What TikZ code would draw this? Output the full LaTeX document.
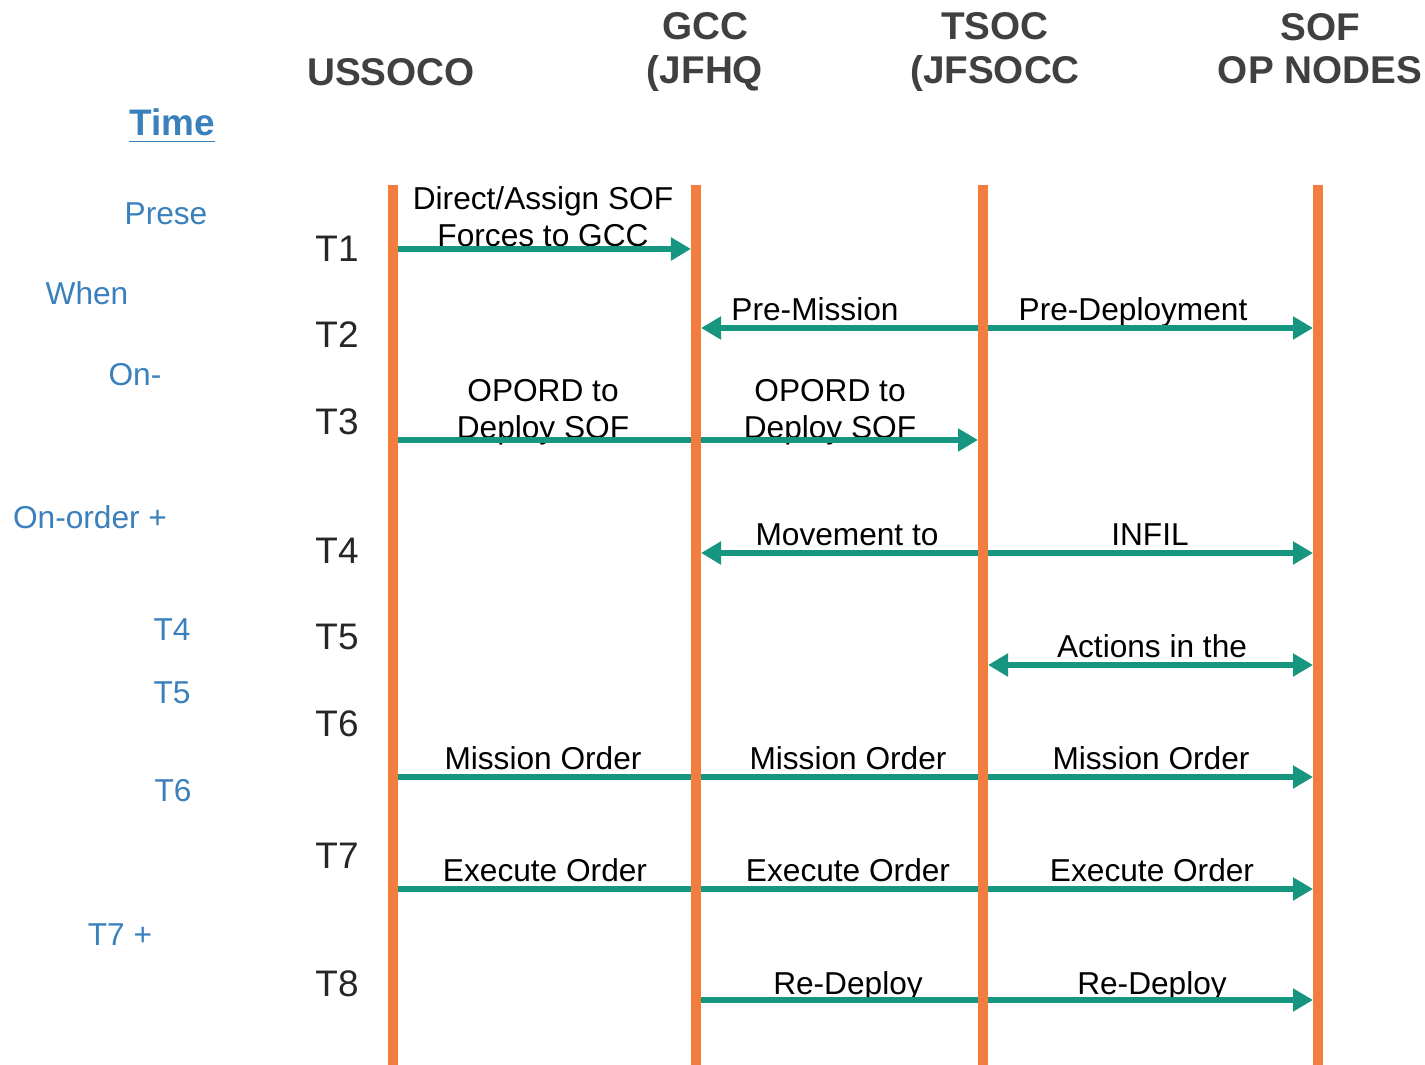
\documentclass[tikz,border=0pt]{standalone}
\usepackage{fontspec}
\setmainfont{Liberation Sans}
\definecolor{LifeOrange}{RGB}{242,125,62}
\definecolor{MsgTeal}{RGB}{22,150,128}
\definecolor{TimeBlue}{RGB}{58,128,188}
\definecolor{HeadGray}{RGB}{64,64,64}
\usetikzlibrary{arrows.meta}

\begin{document}
\begin{tikzpicture}[x=0.01cm, y=-0.01cm,
  head/.style={font=\fontsize{11}{12.3}\selectfont\bfseries, text=HeadGray, align=center, inner sep=0pt},
  life/.style={line width=0.1cm, draw=LifeOrange},
  msg/.style={line width=0.06cm, draw=MsgTeal, shorten >=0.05cm, -{Triangle[length=0.2cm, width=0.22cm]}},
  both/.style={msg, shorten <=0.05cm, {Triangle[length=0.2cm, width=0.22cm]}-{Triangle[length=0.2cm, width=0.22cm]}},
  lbl/.style={font=\fontsize{9}{10.5}\selectfont, align=center, inner sep=0pt, anchor=base},
  tick/.style={font=\fontsize{10.5}{12}\selectfont, text=black!85, inner sep=0pt, anchor=base},
  when/.style={font=\fontsize{9}{10.5}\selectfont, text=TimeBlue, inner sep=0pt, anchor=base}]
\useasboundingbox (0,0) rectangle (1425,1065);
% headers
\node[head, anchor=base] (ussoco) at (391,86) {USSOCO};
\node[head] (gcc) at (705,52) {GCC\\(JFHQ};
\node[head] (tsoc) at (995,52) {TSOC\\(JFSOCC};
\node[head] (sof) at (1320,48.5) {SOF\\OP NODES};
% lifelines
\coordinate (ussocoTop) at (393,185); \coordinate (ussocoEnd) at (393,1065);
\coordinate (gccTop) at (696,185);    \coordinate (gccEnd) at (696,1065);
\coordinate (tsocTop) at (983,185);   \coordinate (tsocEnd) at (983,1065);
\coordinate (sofTop) at (1318,185);   \coordinate (sofEnd) at (1318,1065);
% rows
\coordinate (r1) at (0,249); \coordinate (r2) at (0,328);
\coordinate (r3) at (0,440); \coordinate (r4) at (0,553);
\coordinate (r5) at (0,665); \coordinate (r6) at (0,777);
\coordinate (r7) at (0,889); \coordinate (r8) at (0,1000);
% time column
\node[when, font=\fontsize{10.5}{12}\selectfont\bfseries] (time) at (172,136) {\underline{Time}};
\node[when] (prese) at (166,225) {Prese};
\node[when] (when) at (87,305) {When};
\node[when] (on) at (135,386) {On-};
\node[when] (onorder) at (90,529) {On-order +};
\node[when] (w4) at (172,641) {T4};
\node[when] (w5) at (172,704) {T5};
\node[when] (w6) at (173,801) {T6};
\node[when] (w7) at (120,945) {T7 +};
% steps
\node[tick] (t1) at (337,262) {T1};
\node[tick] (t2) at (337,348) {T2};
\node[tick] (t3) at (337,435) {T3};
\node[tick] (t4) at (337,564) {T4};
\node[tick] (t5) at (337,650) {T5};
\node[tick] (t6) at (337,737) {T6};
\node[tick] (t7) at (337,868) {T7};
\node[tick] (t8) at (337,996) {T8};
% message labels
\node[lbl, anchor=center] (assign) at (543,216.5) {Direct/Assign SOF\\Forces to GCC};
\node[lbl] (premission) at (815,321) {Pre-Mission};
\node[lbl] (predeploy) at (1133,321) {Pre-Deployment};
\node[lbl, anchor=center] (opordA) at (543,412) {OPORD to\\Deploy SOF};
\node[lbl, anchor=center] (opordB) at (830,412) {OPORD to\\Deploy SOF};
\node[lbl] (movement) at (847,546) {Movement to};
\node[lbl] (infil) at (1150,546) {INFIL};
\node[lbl] (actions) at (1152,658) {Actions in the};
\node[lbl] (missionA) at (543,770) {Mission Order};
\node[lbl] (missionB) at (848,770) {Mission Order};
\node[lbl] (missionC) at (1151,770) {Mission Order};
\node[lbl] (executeA) at (545,882) {Execute Order};
\node[lbl] (executeB) at (848,882) {Execute Order};
\node[lbl] (executeC) at (1152,882) {Execute Order};
\node[lbl] (redeployA) at (848,994) {Re-Deploy};
\node[lbl] (redeployB) at (1152,994) {Re-Deploy};
% messages
\draw[msg] (ussocoTop |- r1) -- (gccTop |- r1);
\draw[both] (gccTop |- r2) -- (sofTop |- r2);
\draw[msg] (ussocoTop |- r3) -- (tsocTop |- r3);
\draw[both] (gccTop |- r4) -- (sofTop |- r4);
\draw[both] (tsocTop |- r5) -- (sofTop |- r5);
\draw[msg] (ussocoTop |- r6) -- (sofTop |- r6);
\draw[msg] (ussocoTop |- r7) -- (sofTop |- r7);
\draw[msg] (gccTop |- r8) -- (sofTop |- r8);
% lifelines on top
\draw[life] (ussocoTop) -- (ussocoEnd);
\draw[life] (gccTop) -- (gccEnd);
\draw[life] (tsocTop) -- (tsocEnd);
\draw[life] (sofTop) -- (sofEnd);
\end{tikzpicture}
\end{document}
